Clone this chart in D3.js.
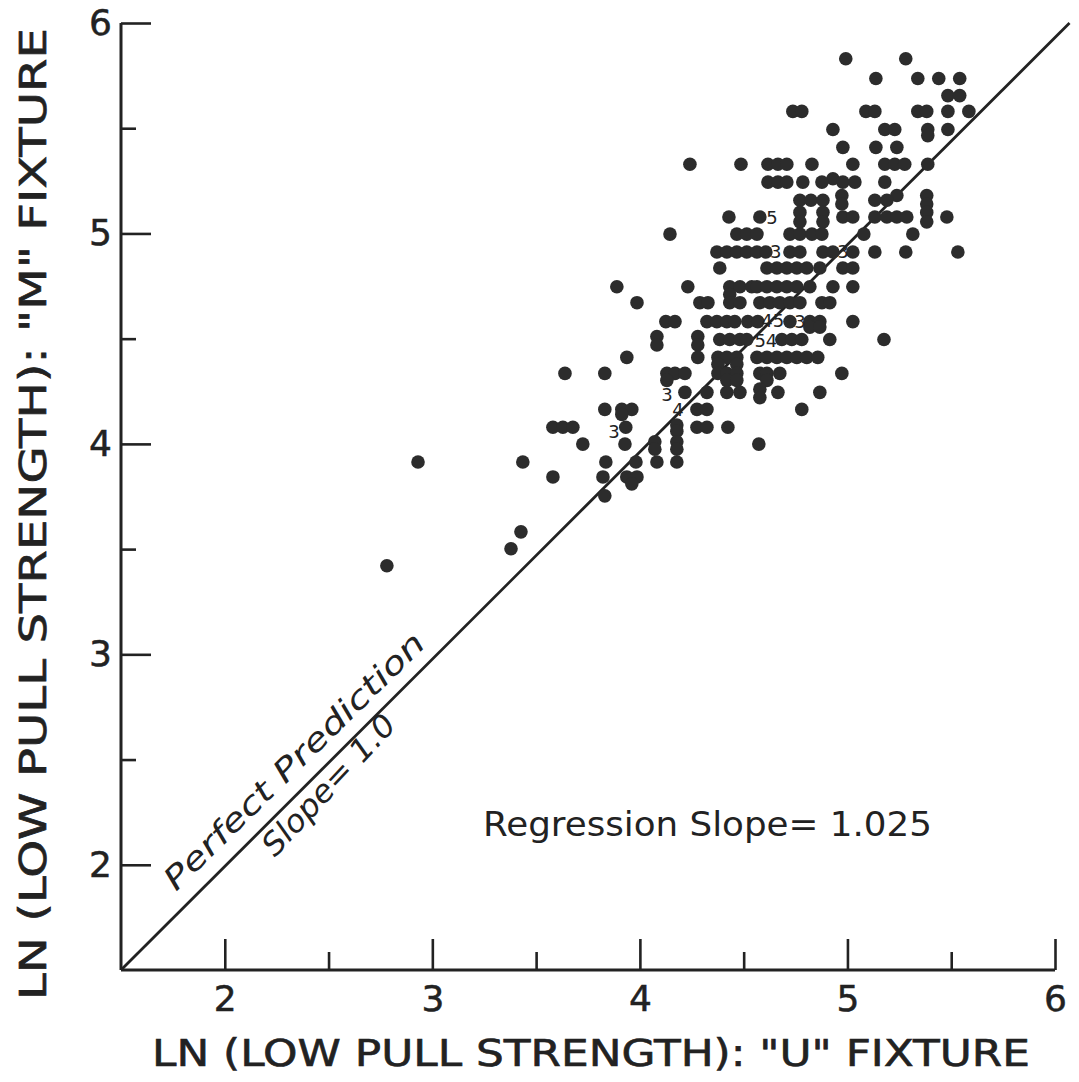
<!DOCTYPE html>
<html>
<head>
<meta charset="utf-8">
<script src="https://cdn.jsdelivr.net/npm/d3@7"></script>
<style>
  html, body { margin: 0; padding: 0; background: #ffffff; }
  svg { display: block; }
  text { font-family: "DejaVu Sans", "Liberation Sans", sans-serif; fill: #222; }
</style>
</head>
<body>
<svg id="chart" width="1079" height="1082"></svg>
<script>
// ---------- data ----------
const xMajorTicks = [2, 3, 4, 5, 6];
const xMinorTicks = [2.5, 3.5, 4.5, 5.5];
const yMajorTicks = [2, 3, 4, 5, 6];
const yMinorTicks = [2.5, 3.5, 4.5, 5.5];

// rows of points: [ln M-fixture value, [ln U-fixture values]]
const rows = [
  [5.830, [4.992, 5.281]],
  [5.736, [5.137, 5.339, 5.440, 5.541]],
  [5.655, [5.484, 5.541]],
  [5.580, [4.737, 4.780, 5.089, 5.132, 5.339, 5.382, 5.484, 5.585]],
  [5.494, [4.930, 5.180, 5.228, 5.387, 5.484]],
  [5.465, [5.387]],
  [5.409, [4.978, 5.137, 5.238]],
  [5.329, [4.241, 4.487, 4.617, 4.665, 4.708, 4.829, 5.026, 5.180, 5.228, 5.276, 5.387]],
  [5.260, [4.930]],
  [5.244, [4.617, 4.665, 4.708, 4.785, 4.877, 4.978, 5.036, 5.180]],
  [5.180, [4.973, 5.238, 5.382]],
  [5.158, [4.771, 4.824, 4.882, 5.132, 5.190]],
  [5.140, [4.973, 5.382]],
  [5.100, [4.771, 4.882, 5.382]],
  [5.078, [4.429, 4.578, 4.978, 5.026, 5.132, 5.190, 5.238, 5.286, 5.479]],
  [5.055, [4.771, 4.882, 5.382]],
  [4.997, [4.145, 4.467, 4.515, 4.564, 4.723, 4.771, 4.829, 4.877, 5.079, 5.315]],
  [4.912, [4.371, 4.419, 4.467, 4.515, 4.564, 4.607, 4.723, 4.771, 4.882, 4.930, 5.026, 5.132, 5.281, 5.532]],
  [4.836, [4.385, 4.612, 4.660, 4.708, 4.756, 4.804, 4.867, 4.978, 5.026]],
  [4.747, [3.889, 4.231, 4.433, 4.482, 4.539, 4.564, 4.612, 4.660, 4.708, 4.756, 4.819, 4.930, 5.026]],
  [4.710, [4.433]],
  [4.671, [3.986, 4.289, 4.328, 4.433, 4.482, 4.578, 4.626, 4.674, 4.723, 4.771, 4.877, 4.915]],
  [4.581, [4.125, 4.169, 4.323, 4.371, 4.419, 4.457, 4.520, 4.568, 4.723, 4.819, 4.867, 5.026]],
  [4.555, [4.819, 4.867]],
  [4.510, [4.082, 4.279]],
  [4.496, [4.385, 4.433, 4.482, 4.515, 4.684, 4.732, 4.780, 4.915, 5.176]],
  [4.470, [4.082, 4.279]],
  [4.411, [3.937, 4.279, 4.376, 4.419, 4.467, 4.564, 4.612, 4.660, 4.708, 4.756, 4.804, 4.857]],
  [4.378, [4.376, 4.467]],
  [4.335, [3.639, 3.831, 4.130, 4.169, 4.217, 4.376, 4.419, 4.467, 4.578, 4.612, 4.674, 4.973]],
  [4.302, [4.130, 4.419, 4.467, 4.612]],
  [4.260, [4.578]],
  [4.245, [4.217, 4.323, 4.419, 4.482, 4.665, 4.867]],
  [4.220, [4.578]],
  [4.164, [3.831, 3.913, 3.961, 4.275, 4.323, 4.780]],
  [4.140, [3.913]],
  [4.090, [4.178]],
  [4.079, [3.581, 3.629, 3.677, 3.932, 4.275, 4.323, 4.424]],
  [4.060, [4.178]],
  [4.010, [4.072, 4.178]],
  [3.999, [3.725, 3.928, 4.573]],
  [3.975, [4.072, 4.178]],
  [3.914, [2.931, 3.436, 3.836, 3.981, 4.082, 4.178]],
  [3.843, [3.581, 3.822, 3.937, 3.986]],
  [3.810, [3.961]],
  [3.753, [3.831]],
  [3.582, [3.427]],
  [3.502, [3.379]],
  [3.421, [2.781]]
];

// multiplicity numbers written in place of coincident points
const countLabels = [
  [4.636, 5.078, "5"],
  [4.655, 4.912, "3"],
  [4.978, 4.912, "3"],
  [4.640, 4.585, "45"],
  [4.771, 4.581, "3"],
  [4.607, 4.490, "54"],
  [4.130, 4.235, "3"],
  [4.183, 4.164, "4"],
  [3.875, 4.060, "3"]
];

const perfectLineX = [1.5, 6.07];
const perfectLineY = [1.5, 6.0];

// ---------- layout ----------
const svg = d3.select("#chart");
const x = d3.scaleLinear().domain([1.5, 6]).range([121, 1055]);
const y = d3.scaleLinear().domain([1.5, 6]).range([970, 23]);
const ink = "#222";

const points = [];
rows.forEach(([m, us]) => us.forEach(u => points.push([u, m])));

// perfect prediction line
svg.append("line")
  .attr("x1", x(perfectLineX[0])).attr("y1", y(perfectLineY[0]))
  .attr("x2", x(perfectLineX[1])).attr("y2", y(perfectLineY[1]))
  .attr("stroke", ink).attr("stroke-width", 2.8);

// points
svg.append("g").selectAll("circle").data(points).join("circle")
  .attr("cx", d => x(d[0])).attr("cy", d => y(d[1]))
  .attr("r", 6.8).attr("fill", "#2c2c2c");

// count labels
svg.append("g").selectAll("text").data(countLabels).join("text")
  .attr("x", d => x(d[0])).attr("y", d => y(d[1]))
  .attr("text-anchor", "middle").attr("dominant-baseline", "central")
  .attr("font-size", 18).attr("fill", "#333")
  .text(d => d[2]);

// x axis
const gx = svg.append("g").attr("transform", `translate(0,${y(1.5)})`);
gx.call(d3.axisBottom(x).tickValues(xMajorTicks).tickSize(-31).tickSizeOuter(0).tickPadding(15).tickFormat(d3.format("d")));
gx.append("g").call(d3.axisBottom(x).tickValues(xMinorTicks).tickSize(-18).tickSizeOuter(0).tickFormat(""))
  .select(".domain").remove();
gx.selectAll("path,line").attr("stroke", ink).attr("stroke-width", 2.6);
gx.select(".domain").attr("d", `M${x(1.5)},0H${x(6)}`).attr("stroke-width", 3);
gx.selectAll("text").attr("font-size", 36).attr("fill", ink).attr("stroke", ink).attr("stroke-width", 0.5)
  .attr("font-family", "DejaVu Sans");

// y axis
const gy = svg.append("g").attr("transform", `translate(${x(1.5)},0)`);
gy.call(d3.axisLeft(y).tickValues(yMajorTicks).tickSize(-30).tickSizeOuter(0).tickPadding(9).tickFormat(d3.format("d")));
gy.append("g").call(d3.axisLeft(y).tickValues(yMinorTicks).tickSize(-15).tickSizeOuter(0).tickFormat(""))
  .select(".domain").remove();
gy.selectAll("path,line").attr("stroke", ink).attr("stroke-width", 2.6);
gy.select(".domain").attr("d", `M0,${y(1.5)}V${y(6)}`).attr("stroke-width", 3);
gy.selectAll("text").attr("font-size", 36).attr("fill", ink).attr("stroke", ink).attr("stroke-width", 0.5)
  .attr("font-family", "DejaVu Sans");

// axis titles
svg.append("text")
  .attr("x", 152).attr("y", 1066)
  .attr("font-size", 37).attr("stroke", ink).attr("stroke-width", 0.6)
  .attr("textLength", 878).attr("lengthAdjust", "spacingAndGlyphs")
  .text('LN (LOW PULL STRENGTH): "U" FIXTURE');

svg.append("text")
  .attr("transform", "translate(46,1000) rotate(-90)")
  .attr("font-size", 37).attr("stroke", ink).attr("stroke-width", 0.6)
  .attr("textLength", 972).attr("lengthAdjust", "spacingAndGlyphs")
  .text('LN (LOW PULL STRENGTH): "M" FIXTURE');

// annotations
svg.append("text")
  .attr("transform", "translate(176,892) rotate(-44.5)")
  .attr("font-size", 31).attr("font-style", "italic")
  .attr("textLength", 352).attr("lengthAdjust", "spacingAndGlyphs")
  .text("Perfect Prediction");

svg.append("text")
  .attr("transform", "translate(275,858) rotate(-47)")
  .attr("font-size", 31).attr("font-style", "italic")
  .attr("textLength", 180).attr("lengthAdjust", "spacingAndGlyphs")
  .text("Slope= 1.0");

svg.append("text")
  .attr("x", 483).attr("y", 836)
  .attr("font-size", 34)
  .attr("textLength", 449).attr("lengthAdjust", "spacingAndGlyphs")
  .text("Regression Slope= 1.025");
</script>
</body>
</html>
